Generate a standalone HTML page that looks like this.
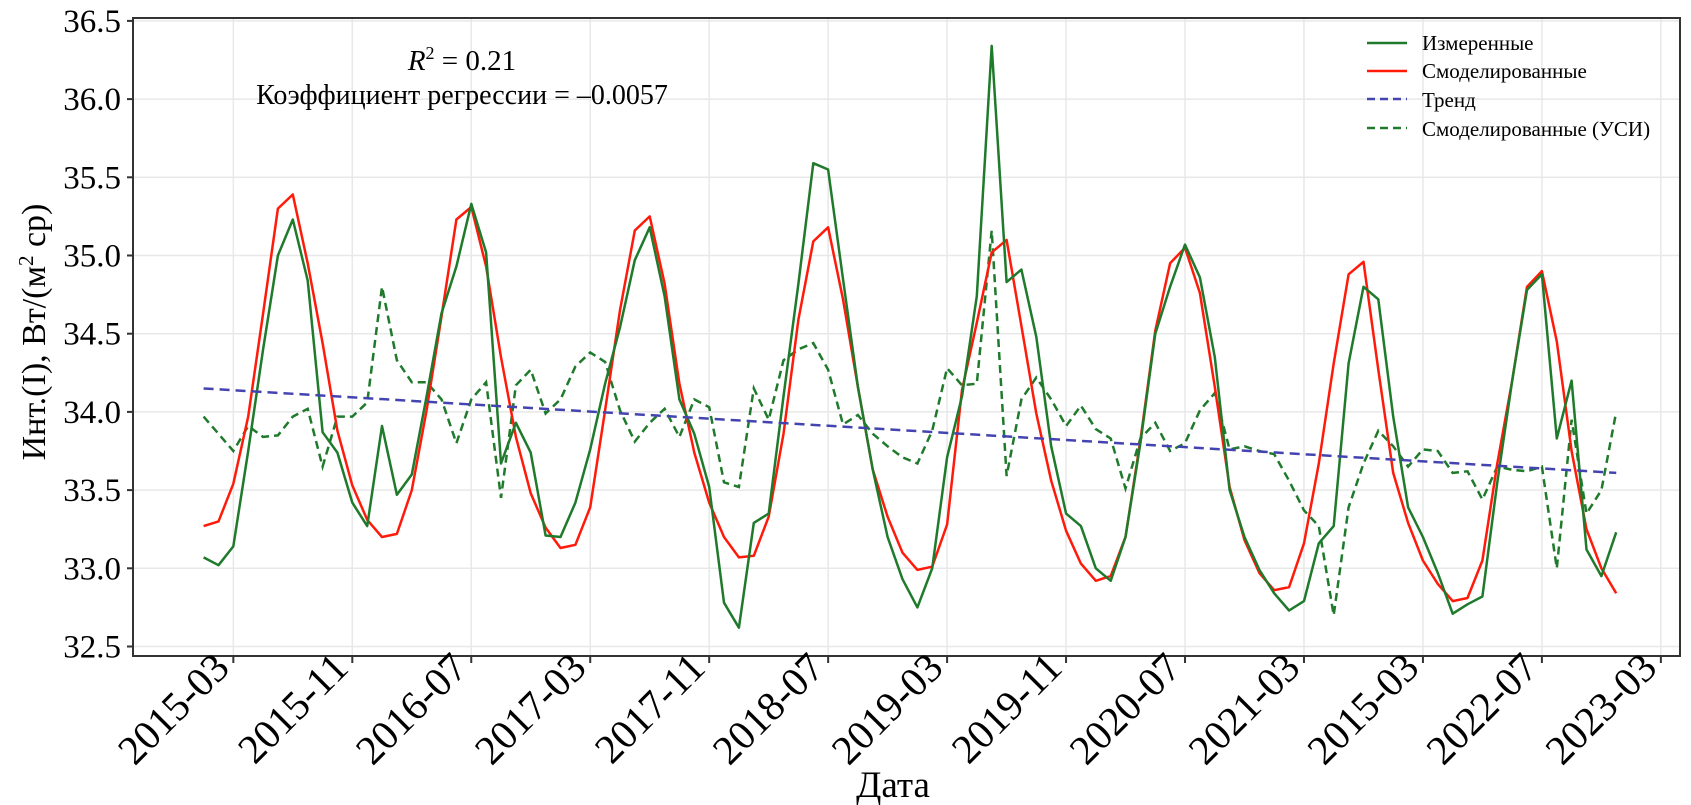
<!DOCTYPE html>
<html><head><meta charset="utf-8">
<style>
html,body{margin:0;padding:0;background:#fff;}
svg{display:block;font-family:"Liberation Serif","DejaVu Serif",serif;}
</style></head>
<body>
<svg id="chart" width="1691" height="805" viewBox="0 0 1691 805" xmlns="http://www.w3.org/2000/svg">
<rect x="0" y="0" width="1691" height="805" fill="#fff"/>
<g id="grid"></g>
<g id="series"></g>
<rect x="133" y="18" width="1547" height="638" fill="none" stroke="#333" stroke-width="2"/>
<g id="axes"></g>
<text x="462" y="70" text-anchor="middle" font-size="29"><tspan font-style="italic">R</tspan><tspan font-size="18" dy="-11">2</tspan><tspan dy="11"> = 0.21</tspan></text>
<text x="462" y="104" text-anchor="middle" font-size="28">Коэффициент регрессии = –0.0057</text>
<text x="893" y="797" text-anchor="middle" font-size="37">Дата</text>
<text transform="translate(45,332) rotate(-90)" text-anchor="middle" font-size="34">Инт.(I), Вт/(м<tspan font-size="21" dy="-12">2</tspan><tspan dy="12"> ср)</tspan></text>
<g>
  <g>
    <line x1="1367" y1="43" x2="1407" y2="43" stroke="#1f7a2c" stroke-width="2.5"/>
    <text x="1422" y="50" font-size="21">Измеренные</text>
  </g>
  <g>
    <line x1="1367" y1="71" x2="1407" y2="71" stroke="#ff1a0a" stroke-width="2.5"/>
    <text x="1422" y="78" font-size="21">Смоделированные</text>
  </g>
  <g>
    <line x1="1367" y1="99" x2="1407" y2="99" stroke="#4444b0" stroke-width="2.5" stroke-dasharray="8,5"/>
    <text x="1422" y="107" font-size="21">Тренд</text>
  </g>
  <g>
    <line x1="1367" y1="128" x2="1407" y2="128" stroke="#1f7a2c" stroke-width="2.5" stroke-dasharray="8,5"/>
    <text x="1422" y="136" font-size="21">Смоделированные (УСИ)</text>
  </g>
</g>
</svg>
<script>
const measured = [33.07,33.02,33.14,33.75,34.4,35.0,35.23,34.84,33.87,33.74,33.42,33.27,33.91,33.47,33.60,34.10,34.63,34.93,35.33,35.02,33.67,33.93,33.74,33.21,33.20,33.42,33.76,34.18,34.54,34.97,35.18,34.74,34.08,33.86,33.52,32.78,32.62,33.29,33.35,34.1,34.82,35.59,35.55,34.85,34.16,33.63,33.2,32.93,32.75,33.0,33.71,34.10,34.74,36.34,34.83,34.91,34.48,33.78,33.35,33.27,33.0,32.92,33.2,33.8,34.50,34.80,35.07,34.86,34.35,33.50,33.20,32.99,32.84,32.73,32.79,33.16,33.27,34.31,34.80,34.72,33.97,33.39,33.20,32.97,32.71,32.77,32.82,33.55,34.2,34.78,34.88,33.83,34.2,33.12,32.95,33.23];
const modeled = [33.27,33.30,33.54,33.97,34.63,35.30,35.39,34.95,34.44,33.88,33.53,33.31,33.20,33.22,33.50,34.01,34.61,35.23,35.31,34.93,34.35,33.84,33.48,33.26,33.13,33.15,33.39,34.01,34.65,35.16,35.25,34.82,34.18,33.74,33.42,33.20,33.07,33.08,33.33,33.86,34.59,35.09,35.18,34.72,34.16,33.63,33.33,33.10,32.99,33.01,33.28,34.14,34.57,35.02,35.10,34.55,33.99,33.56,33.24,33.03,32.92,32.95,33.2,33.82,34.52,34.95,35.05,34.76,34.16,33.52,33.18,32.97,32.86,32.88,33.16,33.67,34.31,34.88,34.96,34.27,33.61,33.29,33.05,32.90,32.79,32.81,33.05,33.67,34.2,34.8,34.9,34.45,33.75,33.25,33.0,32.84];
const modeledUSI = [33.97,33.86,33.75,33.91,33.84,33.85,33.97,34.02,33.65,33.97,33.97,34.06,34.80,34.33,34.19,34.19,34.08,33.80,34.08,34.19,33.45,34.17,34.27,33.99,34.08,34.29,34.38,34.32,34.01,33.81,33.93,34.02,33.84,34.08,34.03,33.55,33.52,34.15,33.95,34.33,34.40,34.44,34.27,33.92,33.98,33.86,33.78,33.71,33.67,33.88,34.28,34.17,34.18,35.16,33.59,34.08,34.22,34.08,33.91,34.04,33.89,33.83,33.51,33.83,33.93,33.75,33.80,34.01,34.12,33.76,33.78,33.75,33.73,33.56,33.37,33.27,32.70,33.39,33.67,33.88,33.78,33.65,33.76,33.75,33.61,33.62,33.44,33.65,33.63,33.62,33.65,33.0,33.95,33.35,33.5,34.0];
const trendEnds = [34.15, 33.61];
const yTicks = [32.5,33.0,33.5,34.0,34.5,35.0,35.5,36.0,36.5];
const xTickMonths = [2,10,18,26,34,42,50,58,66,74,82,90,98];
const xTickLabels = ["2015-03","2015-11","2016-07","2017-03","2017-11","2018-07","2019-03","2019-11","2020-07","2021-03","2015-03","2022-07","2023-03"];

const NS = "http://www.w3.org/2000/svg";
function xs(i){ return 203.6 + 14.87 * i; }
function ys(v){ return 177.3 + (35.5 - v) * 156.4; }
function mk(tag, attrs, parent){
  const e = document.createElementNS(NS, tag);
  for (const k in attrs) e.setAttribute(k, attrs[k]);
  parent.appendChild(e);
  return e;
}
const grid = document.getElementById('grid');
const axes = document.getElementById('axes');
const series = document.getElementById('series');

yTicks.forEach(function(v){
  const y = ys(v);
  const g = mk('line', {x1:133, x2:1680, y1:y, y2:y, stroke:'#e8e8e8', 'stroke-width':1.5}, grid);
  
  
  const t = mk('line', {x1:127, x2:133, y1:y, y2:y, stroke:'#333', 'stroke-width':2}, axes);
  
  
  const l = mk('text', {x:121, y:y+11, 'text-anchor':'end', 'font-size':33}, axes);
  l.textContent = v.toFixed(1);
  
  
});
xTickMonths.forEach(function(m, k){
  const x = xs(m);
  const g = mk('line', {x1:x, x2:x, y1:18, y2:656, stroke:'#e8e8e8', 'stroke-width':1.5}, grid);
  
  
  const t = mk('line', {x1:x, x2:x, y1:656, y2:663, stroke:'#333', 'stroke-width':2}, axes);
  
  
  const l = mk('text', {transform:'translate('+(x-2)+',670) rotate(-45)', 'text-anchor':'end', 'font-size':41}, axes);
  l.textContent = xTickLabels[k];
  
  
});

function pathFor(arr){
  return arr.map(function(v,i){ return (i?'L':'M') + xs(i).toFixed(1) + ',' + ys(v).toFixed(1); }).join(' ');
}
const pUSI = mk('path', {d:pathFor(modeledUSI), fill:'none', stroke:'#1f7a2c', 'stroke-width':2.5, 'stroke-dasharray':'8,5'}, series);


const pMod = mk('path', {d:pathFor(modeled), fill:'none', stroke:'#ff1a0a', 'stroke-width':2.5, 'stroke-linejoin':'round'}, series);


const pMeas = mk('path', {d:pathFor(measured), fill:'none', stroke:'#1f7a2c', 'stroke-width':2.5, 'stroke-linejoin':'round'}, series);


const n = measured.length - 1;
const pTr = mk('line', {x1:xs(0), y1:ys(trendEnds[0]), x2:xs(n), y2:ys(trendEnds[1]), stroke:'#4444b0', 'stroke-width':2.5, 'stroke-dasharray':'10,6'}, series);


</script>
</body></html>
